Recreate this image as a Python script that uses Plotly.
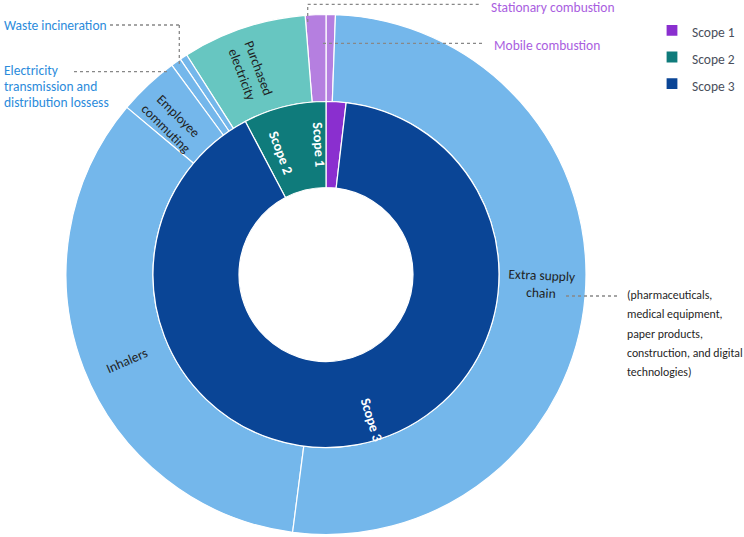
import math
import plotly.graph_objects as go

# ---- data (share of total emissions, %) ----
scope_labels = ["Scope 1", "Scope 2", "Scope 3"]
scope_values = [1.86, 7.72, 90.42]

source_labels = ["Mobile combustion", "Stationary combustion", "Purchased electricity",
                 "Waste incineration", "Electricity transmission and distribution lossess",
                 "Employee commuting", "Inhalers", "Extra supply chain"]
source_values = [0.58, 1.28, 7.72, 0.47, 0.64, 3.78, 34.06, 51.47]
source_text = ["", "", "Purchased<br>electricity", "", "", "Employee<br>commuting",
               "Inhalers", "Extra supply<br>chain"]

note_lines = ["(pharmaceuticals,", "medical equipment,", "paper products,",
              "construction, and digital", "technologies)"]

scope_colors = ["#8A2FCF", "#0F7B7B", "#0A4596"]
source_colors = ["#B57FE0", "#B57FE0", "#67C6C1", "#74B7EB", "#74B7EB",
                 "#74B7EB", "#74B7EB", "#74B7EB"]

W, H = 744, 537
FONT = "Carlito, Lato, sans-serif"
cx, cy = 326, 274.5
R_out, R_mid, R_in = 260, 173, 87


def px(x):
    return x / W


def py(y):
    return 1 - y / H


def dom(r):
    return dict(x=[(cx - r) / W, (cx + r) / W],
                y=[(H - cy - r) / H, (H - cy + r) / H])


# legend labels: rendered at 13.5px inside a taller legend row
legend_names = ['<span style="font-size:13.5px">%s</span>' % s for s in scope_labels]

fig = go.Figure()
fig.add_trace(go.Pie(
    labels=source_labels, values=source_values,
    textinfo="none", sort=False, direction="counterclockwise", rotation=0,
    hole=R_mid / R_out, domain=dom(R_out),
    marker=dict(colors=source_colors, line=dict(color="white", width=1.2)),
    showlegend=False, hoverinfo="label+percent",
))
fig.add_trace(go.Pie(
    labels=legend_names, values=scope_values,
    textinfo="none", sort=False, direction="counterclockwise", rotation=0,
    hole=R_in / R_mid, domain=dom(R_mid),
    marker=dict(colors=scope_colors, line=dict(color="white", width=1.2)),
    showlegend=True, hoverinfo="label+percent",
))


def ring_labels(values, texts, radius, font, radius_override=None):
    total = sum(values)
    out = []
    cum = 0.0
    for i, (v, t) in enumerate(zip(values, texts)):
        mid = (cum + v / 2) / total * 360.0
        cum += v
        if not t:
            continue
        r = radius if not radius_override or i not in radius_override else radius_override[i]
        th = math.radians(mid)
        x = cx - r * math.sin(th)
        y = cy - r * math.cos(th)
        ang = 90 - mid
        if ang < -90:
            ang += 180
        if ang > 90:
            ang -= 180
        out.append(dict(text=t, x=px(x), y=py(y), xref="paper", yref="paper",
                        xanchor="center", yanchor="middle", showarrow=False,
                        textangle=ang, font=font))
    return out


annotations = []
annotations += ring_labels(source_values, source_text, (R_mid + R_out) / 2,
                           dict(family=FONT, size=13.5, color="#1f1f1f"))
annotations += ring_labels(scope_values, scope_labels, (R_in + R_mid) / 2,
                           dict(family=FONT, size=14, color="white", weight="bold"),
                           radius_override={2: 152})

dot = dict(color="#888888", width=1.3, dash="dot")
lines = [
    (307.7, 22, 307.7, 4.3), (307.7, 4.3, 480, 4.3),      # Stationary combustion
    (323, 43.3, 482, 43.3),                                 # Mobile combustion
    (110, 25, 179.3, 25), (179.3, 25, 179.3, 65),           # Waste incineration
    (74, 71.7, 170, 71.7),                                  # Electricity T&D
    (566, 296, 617, 296),                                   # Extra supply chain note
]
shapes = [dict(type="line", xref="paper", yref="paper",
               x0=px(a), y0=py(b), x1=px(c), y1=py(d), line=dot)
          for a, b, c, d in lines]

purple = "#A95EE0"
blue = "#2B8BDB"
side = [
    ("Stationary combustion", 489, 7.3, purple, 13.5),
    ("Mobile combustion", 492, 45.7, purple, 13.5),
    ("Waste incineration", 2, 25.7, blue, 13.5),
    ("Electricity", 2, 70.7, blue, 13.5),
    ("transmission and", 2, 86.7, blue, 13.5),
    ("distribution lossess", 2, 102.3, blue, 13.5),
]
for i, line in enumerate(note_lines):
    side.append((line, 625, 295 + i * 19.3, "#1f1f1f", 11.8))

for t, x, y, c, s in side:
    annotations.append(dict(text=t, x=px(x), y=py(y), xref="paper", yref="paper",
                            xanchor="left", yanchor="middle", align="left", showarrow=False,
                            font=dict(family=FONT, size=s, color=c)))

fig.update_layout(
    width=W, height=H, margin=dict(l=0, r=0, t=0, b=0, autoexpand=False),
    paper_bgcolor="white", plot_bgcolor="white",
    font=dict(family=FONT),
    shapes=shapes, annotations=annotations,
    legend=dict(x=px(652), y=py(12), xanchor="left", yanchor="top",
                font=dict(family=FONT, size=18.2, color="#4a4f5c"),
                traceorder="normal", itemwidth=30, tracegroupgap=0),
)

fig.write_html("out.html")
